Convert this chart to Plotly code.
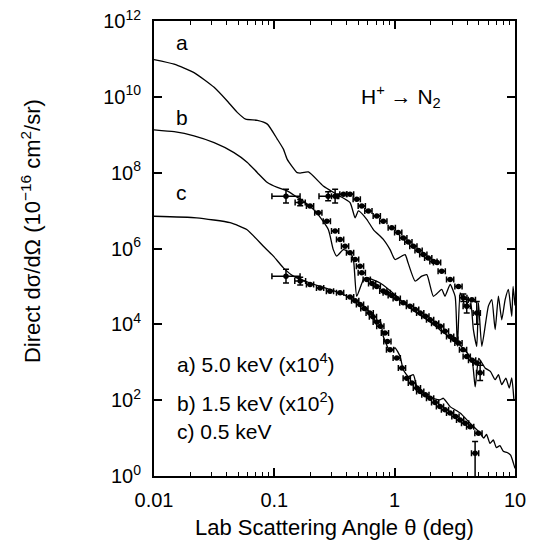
import plotly.graph_objects as go

# ---------------- data (angle in deg, log10 of cross section) ----------------
# theory curves
a_th_x = [0.01, 0.0147, 0.0215, 0.0316, 0.0406, 0.0492, 0.0578, 0.0723, 0.0875, 0.106,
          0.119, 0.128, 0.155, 0.164, 0.192, 0.255, 0.330, 0.426, 0.469, 0.50,
          0.586, 0.665, 0.805, 0.916, 1.007, 1.22, 1.29, 1.48, 1.68, 1.85,
          2.10, 2.46, 2.62, 2.89, 3.18, 3.32, 3.50, 3.61, 3.85, 4.24,
          4.51, 4.81, 4.97, 5.30, 6.01, 6.41, 6.84, 7.28, 7.76, 8.28,
          8.81, 9.40, 9.64, 10.0]
a_th_logy = [10.98, 10.86, 10.64, 10.25, 9.89, 9.59, 9.41, 9.38, 9.28, 8.88,
             8.62, 8.35, 8.00, 7.99, 8.02, 7.65, 7.43, 7.21, 6.81, 6.99,
             6.77, 6.50, 6.24, 5.97, 5.71, 5.84, 5.63, 5.14, 5.27, 5.31,
             4.74, 4.92, 4.74, 5.05, 4.74, 3.42, 4.83, 4.74, 4.48, 4.65,
             3.86, 3.42, 4.57, 3.42, 4.48, 4.65, 3.86, 4.74, 4.12, 4.65,
             4.92, 4.21, 5.0, 4.5]

b_th_x = [0.01, 0.0147, 0.0215, 0.0316, 0.0462, 0.0597, 0.0723, 0.0875, 0.106, 0.128,
          0.150, 0.174, 0.225, 0.281, 0.309, 0.330, 0.375, 0.426, 0.454, 0.484,
          0.550, 0.586, 0.757, 1.04, 1.20, 1.50, 2.00, 2.50, 3.00, 3.50,
          4.00, 4.40, 4.67, 5.00, 5.64, 6.24, 6.84, 7.28, 7.76, 8.40,
          8.95, 9.40, 9.80]
b_th_logy = [9.13, 9.08, 8.97, 8.79, 8.53, 8.27, 8.00, 7.74, 7.61, 7.52,
             7.38, 7.25, 6.94, 6.50, 5.97, 5.80, 5.97, 5.89, 5.71, 4.74,
             5.18, 5.23, 5.09, 4.74, 4.55, 4.32, 4.05, 3.80, 3.62, 3.45,
             3.25, 3.05, 2.35, 3.1, 2.85, 2.76, 2.54, 2.67, 2.41, 2.58,
             2.32, 2.59, 2.0]

c_th_x = [0.01, 0.0226, 0.0429, 0.059, 0.0811, 0.0982, 0.119, 0.144, 0.198, 0.290,
          0.426, 0.55, 0.665, 0.687, 0.757, 0.805, 0.916, 1.007, 1.11, 1.18,
          1.30, 1.43, 1.53, 1.85, 2.38, 2.54, 2.89, 3.50, 4.24, 5.13,
          5.50, 5.80, 6.20, 6.60, 7.00, 7.50, 8.00, 8.60, 9.20, 9.70, 10.0]
c_th_logy = [6.85, 6.81, 6.68, 6.50, 6.06, 5.80, 5.49, 5.27, 5.09, 4.92,
             4.70, 4.48, 4.21, 4.08, 4.10, 3.68, 3.29, 3.38, 3.15, 2.80,
             2.62, 2.67, 2.36, 2.10, 2.01, 2.05, 1.83, 1.66, 1.39, 1.13,
             1.00, 1.10, 0.86, 0.95, 0.75, 0.80, 0.65, 0.62, 0.55, 0.34, 0.20]

# measured data (error bars as half-widths in decades)
a_x = [0.28, 0.32, 0.375, 0.426, 0.484, 0.533, 0.605, 0.71, 0.805, 0.946,
       1.07, 1.18, 1.30, 1.43, 1.58, 1.73, 1.90, 2.10, 2.25, 2.46,
       2.89, 3.39, 3.72, 3.97, 4.38, 4.81]
a_logy = [7.38, 7.38, 7.43, 7.43, 7.30, 7.12, 6.99, 6.86, 6.72, 6.55,
          6.42, 6.28, 6.17, 6.06, 5.95, 5.84, 5.75, 5.66, 5.63, 5.40,
          5.18, 5.00, 4.70, 4.48, 4.65, 4.30]
a_xerr_dec = [0.076, 0.03] + [0.03] * 24
a_yerr_dec = [0.12, 0.18] + [0.0] * 20 + [0.10, 0.18, 0.0, 0.30]

b_x = [0.125, 0.164, 0.198, 0.232, 0.273, 0.320, 0.352, 0.387, 0.426, 0.469,
       0.515, 0.533, 0.586, 0.65, 0.71, 0.805, 0.859, 0.946, 1.04, 1.18,
       1.34, 1.48, 1.63, 1.80, 1.97, 2.17, 2.39, 2.62, 2.89, 3.13,
       3.39, 3.70, 3.97, 4.40, 4.81, 5.13]
b_logy = [7.38, 7.21, 7.12, 6.94, 6.72, 6.46, 6.24, 6.06, 5.89, 5.71,
          5.53, 5.36, 5.18, 5.08, 5.00, 4.88, 4.83, 4.76, 4.68, 4.57,
          4.48, 4.39, 4.30, 4.21, 4.12, 4.03, 3.95, 3.82, 3.68, 3.60,
          3.51, 3.33, 3.15, 3.05, 2.98, 2.72]
b_xerr_dec = [0.117, 0.042] + [0.03] * 34
b_yerr_dec = [0.18, 0.08] + [0.0] * 33 + [0.20]

c_x = [0.125, 0.164, 0.198, 0.240, 0.290, 0.352, 0.426, 0.47, 0.515, 0.56,
       0.62, 0.66, 0.71, 0.76, 0.83, 0.87, 0.916, 1.04, 1.15, 1.26,
       1.39, 1.53, 1.63, 1.80, 1.97, 2.17, 2.38, 2.62, 2.89, 3.20,
       3.50, 3.85, 4.24, 4.66, 4.97]
c_logy = [5.27, 5.14, 5.05, 4.96, 4.87, 4.83, 4.72, 4.62, 4.52, 4.42,
          4.30, 4.20, 4.06, 3.95, 3.77, 3.55, 3.33, 3.11, 2.85, 2.58,
          2.45, 2.32, 2.23, 2.14, 2.05, 1.94, 1.83, 1.75, 1.66, 1.57,
          1.48, 1.39, 1.30, 0.60, 1.13]
c_xerr_dec = [0.117, 0.045] + [0.03] * 33
c_yerr_up_dec = [0.18, 0.10] + [0.0] * 31 + [0.31, 0.0]
c_yerr_dn_dec = [0.18, 0.10] + [0.0] * 31 + [1.5, 0.0]

y_tick_exp = [0, 2, 4, 6, 8, 10, 12]
x_tick_vals = [0.01, 0.1, 1, 10]
x_tick_text = ["0.01", "0.1", "1", "10"]

# ---------------- figure ----------------
def lin(v):
    return [10 ** u for u in v]


fig = go.Figure()

for tx, ty in [(a_th_x, a_th_logy), (b_th_x, b_th_logy), (c_th_x, c_th_logy)]:
    fig.add_trace(go.Scatter(x=tx, y=lin(ty), mode="lines",
                             line=dict(color="black", width=1.3,
                                       shape="spline", smoothing=0.5),
                             showlegend=False, hoverinfo="skip"))


def add_data(x, logy, xd, yup, ydn):
    y = lin(logy)
    fig.add_trace(go.Scatter(
        x=x, y=y, mode="markers",
        marker=dict(color="black", size=5.5, symbol="circle"),
        error_x=dict(type="data", symmetric=False,
                     array=[xi * (10 ** d - 1) for xi, d in zip(x, xd)],
                     arrayminus=[xi * (1 - 10 ** -d) for xi, d in zip(x, xd)],
                     color="black", thickness=1.5, width=3),
        error_y=dict(type="data", symmetric=False,
                     array=[yi * (10 ** d - 1) for yi, d in zip(y, yup)],
                     arrayminus=[yi * (1 - 10 ** -d) for yi, d in zip(y, ydn)],
                     color="black", thickness=1.5, width=3),
        showlegend=False, hoverinfo="skip"))


add_data(a_x, a_logy, a_xerr_dec, a_yerr_dec, a_yerr_dec)
add_data(b_x, b_logy, b_xerr_dec, b_yerr_dec, b_yerr_dec)
add_data(c_x, c_logy, c_xerr_dec, c_yerr_up_dec, c_yerr_dn_dec)

FONT = "Liberation Sans, Arial, Helvetica, sans-serif"

minor_x = [m * 10 ** e for e in (-2, -1, 0) for m in range(2, 10)]

fig.update_xaxes(type="log", range=[-2, 1],
                 tickvals=x_tick_vals, ticktext=x_tick_text,
                 ticks="inside", ticklen=8, tickwidth=1.5, tickcolor="black",
                 showline=True, linecolor="black", linewidth=2, mirror="allticks",
                 showgrid=False, zeroline=False,
                 tickfont=dict(family=FONT, size=20, color="black"),
                 ticklabelstandoff=5, ticklabeloverflow="allow",
                 minor=dict(tickvals=minor_x, ticks="inside", ticklen=4,
                            tickwidth=1.2, tickcolor="black", showgrid=False))
fig.update_yaxes(type="log", range=[0, 12],
                 tickvals=[10 ** e for e in y_tick_exp],
                 ticktext=["10<sup>%d</sup>" % e for e in y_tick_exp],
                 ticks="inside", ticklen=8, tickwidth=1.5, tickcolor="black",
                 showline=True, linecolor="black", linewidth=2, mirror="allticks",
                 showgrid=False, zeroline=False,
                 tickfont=dict(family=FONT, size=20, color="black"),
                 ticklabelstandoff=7, ticklabeloverflow="allow")

ann_font = dict(family=FONT, size=21, color="black")
annotations = [
    dict(text="a", x=0.0767, y=0.952),
    dict(text="b", x=0.0767, y=0.787),
    dict(text="c", x=0.0767, y=0.622),
    dict(text="H<sup>+</sup> → N<sub>2</sub>", x=0.684, y=0.833),
]
for a in annotations:
    fig.add_annotation(xref="paper", yref="paper", showarrow=False,
                       xanchor="center", yanchor="middle", font=ann_font, **a)

for txt, yy in [("a) 5.0 keV (x10<sup>4</sup>)", 0.248),
                ("b) 1.5 keV (x10<sup>2</sup>)", 0.163),
                ("c) 0.5 keV", 0.097)]:
    fig.add_annotation(xref="paper", yref="paper", showarrow=False,
                       x=0.058, y=yy, xanchor="left", yanchor="middle",
                       text=txt, font=ann_font)

fig.add_annotation(xref="paper", yref="paper", showarrow=False,
                   x=0.5, y=-0.114, xanchor="center", yanchor="middle",
                   text="Lab Scattering Angle θ (deg)",
                   font=dict(family=FONT, size=22, color="black"))
fig.add_annotation(xref="paper", yref="paper", showarrow=False,
                   x=-0.341, y=0.538, xanchor="center", yanchor="middle",
                   textangle=-90,
                   text="Direct dσ/dΩ (10<sup>−16</sup> cm<sup>2</sup>/sr)",
                   font=dict(family=FONT, size=22, color="black"))

# page body adds an 8px offset; compensate in size and margins
fig.update_layout(width=529, height=537,
                  margin=dict(l=146, r=22, t=13, b=69, autoexpand=False),
                  paper_bgcolor="white", plot_bgcolor="white",
                  font=dict(family=FONT, color="black"))

fig.write_html("out.html")
